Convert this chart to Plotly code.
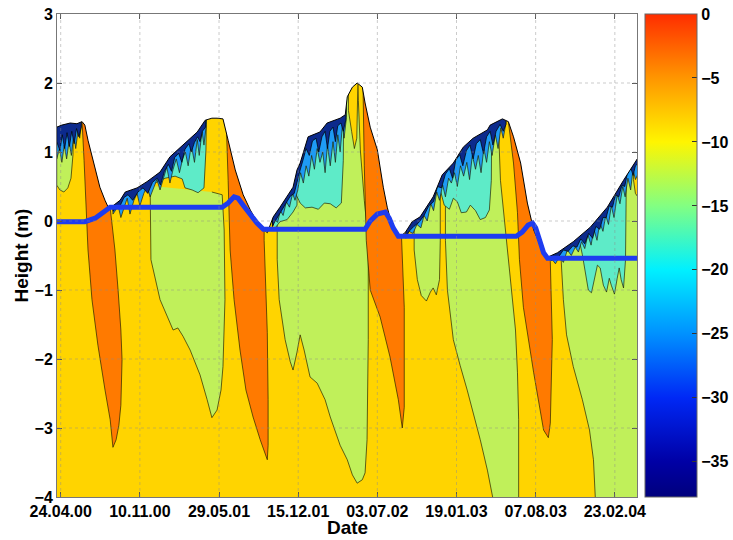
import pandas as pd
import plotly.graph_objects as go

# ---------------- data (days since 24.04.2000, height in m) ----------------
BASE = pd.Timestamp("2000-04-24")
X_RANGE_DAYS = [-9.35, 1456]
Y_RANGE = [-4, 3]
TICK_DAYS = [0, 200, 400, 600, 800, 1000, 1200, 1400]
TICK_LABELS = ["24.04.00", "10.11.00", "29.05.01", "15.12.01",
               "03.07.02", "19.01.03", "07.08.03", "23.02.04"]
Y_TICKS = [-4, -3, -2, -1, 0, 1, 2, 3]
CBAR_TICKS = [0, -5, -10, -15, -20, -25, -30, -35]
CBAR_RANGE = [-37.75, 0]

# top (snow/ice surface)
SURFACE = [(-10, 1.36), (3, 1.39), (24, 1.42), (41, 1.41), (54, 1.44), (61, 1.39), (69, 1.17),
           (82, 0.88), (99, 0.49), (112, 0.30), (120, 0.20), (132, 0.22), (150, 0.30), (163, 0.42),
           (193, 0.48), (218, 0.57), (251, 0.71), (276, 0.93), (302, 1.07), (327, 1.20), (345, 1.29),
           (365, 1.46), (382, 1.49), (395, 1.49), (410, 1.48), (423, 1.17), (441, 0.74), (461, 0.38),
           (479, 0.16), (496, -0.01), (509, -0.10), (522, -0.17), (537, 0.06), (554, 0.20), (587, 0.49),
           (597, 0.74), (605, 0.84), (625, 1.22), (655, 1.29), (673, 1.42), (706, 1.49), (719, 1.54),
           (724, 1.80), (737, 1.94), (749, 2.00), (762, 1.94), (769, 1.71), (782, 1.36), (800, 1.03),
           (815, 0.49), (825, 0.20), (840, -0.13), (858, -0.22), (870, -0.17), (888, -0.01), (908, 0.06),
           (941, 0.35), (964, 0.67), (992, 0.84), (1017, 1.07), (1042, 1.20), (1078, 1.32), (1085, 1.39),
           (1116, 1.48), (1131, 1.44), (1144, 1.22), (1162, 0.84), (1179, 0.26), (1195, -0.13),
           (1220, -0.46), (1232, -0.52), (1255, -0.46), (1295, -0.30), (1338, -0.09), (1381, 0.20),
           (1422, 0.59), (1460, 0.93)]

# thick blue line
BLUE_LINE = [(-10, -0.01), (61, -0.01), (87, 0.04), (107, 0.12), (125, 0.20), (408, 0.20), (423, 0.26),
             (438, 0.35), (448, 0.33), (461, 0.23), (479, 0.09), (496, -0.03), (512, -0.12), (522, -0.12),
             (769, -0.12), (782, 0.00), (800, 0.10), (820, 0.13), (830, 0.04), (840, -0.10), (853, -0.22),
             (863, -0.22), (1151, -0.22), (1166, -0.16), (1181, -0.06), (1192, -0.03), (1200, -0.10),
             (1210, -0.28), (1220, -0.46), (1230, -0.54), (1460, -0.54)]

# 0 .. -5 degC regions
ORANGE = [
    [(54, 2.33), (54, 1.44), (59, 0.88), (64, 0.30), (69, -0.42), (79, -1.14), (94, -1.80), (112, -2.45),
     (125, -2.88), (132, -3.28), (140, -3.17), (147, -2.96), (152, -2.67), (155, -2.01), (152, -1.58),
     (145, -1.00), (137, -0.42), (130, -0.06), (125, 0.19), (125, 2.33)],
    [(418, 2.33), (418, 1.46), (423, 0.59), (428, -0.42), (438, -1.14), (453, -1.87), (468, -2.45),
     (486, -2.84), (504, -3.17), (517, -3.39), (522, -3.46), (524, -3.25), (524, -2.59), (522, -1.62),
     (517, -0.85), (514, -0.28), (514, 2.33)],
    [(764, 2.33), (764, 1.86), (767, 0.80), (772, -0.28), (782, -1.00), (807, -1.39), (832, -1.97),
     (853, -2.59), (863, -3.00), (868, -2.70), (868, -1.25), (863, -0.52), (861, -0.22), (861, 2.33)],
    [(1131, 2.33), (1131, 1.44), (1144, 0.84), (1154, 0.12), (1159, -0.56), (1169, -1.25), (1195, -2.20),
     (1220, -3.03), (1232, -3.14), (1237, -2.93), (1242, -1.72), (1237, -0.59), (1235, 2.33)],
]

# -10 .. -15 degC regions
GREEN = [
    [(-10, 2.33), (-10, 0.52), (-2, 0.45), (8, 0.42), (18, 0.48), (26, 0.62), (31, 0.96), (34, 2.33)],
    [(226, 0.51), (228, -0.56), (251, -1.14), (284, -1.58), (296, -1.55), (309, -1.67), (327, -1.87),
     (352, -2.23), (370, -2.59), (382, -2.85), (395, -2.74), (405, -2.45), (410, -2.11), (415, -1.14),
     (413, -0.13), (408, 0.38), (382, 0.42)],
    [(547, 2.33), (547, -0.56), (552, -1.14), (567, -1.72), (580, -2.04), (587, -2.16), (597, -1.90),
     (605, -1.65), (615, -1.87), (630, -2.26), (648, -2.35), (668, -2.59), (681, -2.84), (706, -3.25),
     (724, -3.46), (737, -3.68), (749, -3.80), (762, -3.75), (769, -3.65), (774, -3.17), (777, -1.72),
     (777, -0.28), (767, 0.30), (757, 1.03), (752, 1.75), (749, 2.33)],
    [(893, 2.33), (893, -0.42), (901, -0.85), (911, -1.08), (924, -1.16), (934, -1.03), (941, -0.97),
     (949, -1.07), (957, -0.85), (959, -0.28), (959, 2.33)],
    [(972, 2.33), (972, -0.28), (977, -1.00), (992, -1.72), (1009, -2.09), (1027, -2.45), (1060, -3.17),
     (1078, -3.61), (1093, -4.05), (1157, -4.05), (1157, -2.88), (1154, -2.20), (1149, -1.58),
     (1136, -0.85), (1124, -0.13), (1111, 0.59), (1106, 1.36), (1106, 2.33)],
    [(1263, 2.33), (1263, -0.42), (1270, -1.14), (1278, -1.65), (1295, -2.11), (1318, -2.59),
     (1336, -3.03), (1346, -3.46), (1351, -4.05), (1463, -4.05), (1463, 2.33)],
]

# -5 .. -10 degC slivers lying inside the green regions
YELLOW = [
    [(727, 2.33), (727, 1.60), (735, 1.30), (742, 1.05), (748, 1.20), (752, 2.33)],
    [(1447, 2.33), (1447, 0.60), (1452, 0.40), (1458, 0.35), (1458, 2.33)],
]

# -15 .. -20 degC regions
AQUA = [
    [(-10, 2.33), (-10, 1.17), (-7, 1.03), (3, 1.10), (11, 1.25), (16, 1.39), (16, 2.33)],
    [(218, 2.33), (218, 0.49), (238, 0.55), (264, 0.62), (289, 0.65), (307, 0.61), (314, 0.48),
     (332, 0.45), (347, 0.41), (362, 0.48), (367, 1.03), (370, 2.33)],
    [(542, -0.10), (554, -0.01), (572, 0.02), (587, 0.13), (597, 0.23), (597, 0.74), (537, 0.74), (537, -0.05)],
    [(595, 2.33), (595, 0.38), (605, 0.26), (618, 0.19), (635, 0.20), (651, 0.17), (666, 0.26),
     (681, 0.25), (696, 0.19), (709, 0.26), (714, 0.88), (716, 2.33)],
    [(959, 2.33), (959, 0.45), (969, 0.23), (982, 0.17), (992, 0.33), (1002, 0.28), (1012, 0.12),
     (1025, 0.13), (1035, 0.23), (1048, 0.15), (1060, 0.02), (1073, 0.05), (1083, 0.16), (1088, 0.59),
     (1090, 2.33)],
    [(1308, 2.33), (1308, -0.22), (1318, -0.49), (1326, -0.78), (1333, -1.00), (1341, -1.04),
     (1348, -0.85), (1356, -0.64), (1363, -0.68), (1371, -0.93), (1379, -1.03), (1386, -0.83),
     (1391, -0.93), (1399, -1.06), (1406, -0.83), (1411, -0.68), (1416, -0.85), (1422, -0.97),
     (1427, -0.56), (1429, 0.30), (1432, 2.33)],
]

# -20 .. -30 degC streaks below the winter surfaces
COLD = [
    [(-10, 2.33), (-10, 0.90), (-3, 1.05), (3, 0.85), (9, 1.10), (15, 0.90), (21, 1.15), (27, 0.95),
     (33, 1.25), (38, 1.05), (44, 1.32), (48, 1.20), (52, 1.38), (52, 2.33)],
    [(132, 2.33), (132, 0.10), (138, 0.15), (145, 0.22), (152, 0.05), (160, 0.20), (168, 0.33),
     (175, 0.10), (185, 0.30), (193, 0.40), (200, 0.22), (210, 0.40), (218, 0.50), (226, 0.35),
     (235, 0.50), (243, 0.60), (251, 0.45), (260, 0.62), (268, 0.78), (276, 0.55), (284, 0.75),
     (292, 0.90), (300, 0.70), (308, 0.90), (315, 1.00), (322, 0.80), (330, 1.10), (338, 0.85),
     (345, 1.18), (350, 0.95), (357, 1.30), (362, 1.10), (368, 1.40), (368, 2.33)],
    [(535, 2.33), (535, -0.08), (541, 0.02), (548, -0.02), (555, 0.15), (562, 0.08), (570, 0.28),
     (578, 0.20), (586, 0.40), (592, 0.30), (599, 0.45), (606, 0.70), (613, 0.55), (620, 0.80),
     (627, 0.65), (634, 0.95), (641, 0.75), (648, 1.05), (655, 0.85), (662, 1.00), (668, 0.70),
     (674, 1.10), (681, 0.80), (688, 1.15), (694, 0.85), (700, 1.25), (706, 1.00), (712, 1.40),
     (716, 1.20), (722, 1.50), (722, 2.33)],
    [(872, 2.33), (872, -0.25), (880, -0.15), (890, -0.18), (900, -0.05), (910, -0.10), (918, 0.08),
     (926, 0.00), (935, 0.25), (942, 0.15), (950, 0.42), (957, 0.30), (965, 0.52), (972, 0.35),
     (980, 0.62), (987, 0.55), (995, 0.70), (1002, 0.50), (1010, 0.80), (1018, 0.65), (1026, 0.85),
     (1033, 0.60), (1040, 0.95), (1048, 0.75), (1055, 0.95), (1062, 0.70), (1069, 1.05), (1076, 0.85),
     (1083, 1.15), (1090, 0.95), (1098, 1.25), (1105, 1.05), (1112, 1.35), (1118, 1.20), (1125, 1.42),
     (1125, 2.33)],
    [(1242, 2.33), (1242, -0.56), (1250, -0.62), (1260, -0.52), (1270, -0.60), (1280, -0.42),
     (1290, -0.50), (1300, -0.38), (1308, -0.45), (1316, -0.30), (1324, -0.40), (1332, -0.20),
     (1340, -0.35), (1347, -0.12), (1355, -0.28), (1362, -0.02), (1370, -0.15), (1377, 0.08),
     (1384, -0.05), (1391, 0.22), (1398, 0.05), (1406, 0.38), (1413, 0.25), (1420, 0.50), (1426, 0.35),
     (1433, 0.62), (1440, 0.45), (1446, 0.75), (1452, 0.60), (1460, 0.70), (1460, 2.33)],
]

# coldest (< -30 degC) thin crust right under the winter surfaces
DARK = [
    [(-10, 2.33), (-10, 1.15), (-2, 1.02), (4, 1.25), (10, 1.05), (16, 1.28), (22, 1.08), (28, 1.30),
     (34, 1.12), (40, 1.34), (46, 1.22), (52, 1.36), (52, 2.33)],
    [(132, 2.33), (132, 0.14), (140, 0.18), (150, 0.22), (160, 0.34), (170, 0.38), (182, 0.30),
     (195, 0.42), (208, 0.48), (220, 0.40), (232, 0.56), (244, 0.62), (252, 0.52), (262, 0.72),
     (272, 0.82), (280, 0.72), (288, 0.92), (298, 0.98), (306, 0.85), (314, 1.04), (324, 1.12),
     (330, 1.00), (338, 1.14), (346, 1.22), (352, 1.15), (358, 1.30), (366, 1.36), (366, 2.33)],
    [(535, 2.33), (535, -0.08), (540, -0.02), (550, 0.08), (560, 0.18), (570, 0.28), (580, 0.36),
     (590, 0.40), (598, 0.60), (604, 0.72), (612, 0.88), (620, 1.05), (628, 0.95), (636, 1.16),
     (645, 1.20), (652, 1.00), (660, 1.22), (668, 1.30), (674, 1.05), (680, 1.30), (688, 1.36),
     (694, 1.15), (700, 1.38), (708, 1.42), (714, 1.30), (720, 1.46), (720, 2.33)],
    [(872, 2.33), (872, -0.22), (880, -0.15), (892, -0.08), (905, -0.02), (918, 0.08), (930, 0.22),
     (942, 0.28), (952, 0.50), (962, 0.48), (972, 0.68), (982, 0.76), (990, 0.62), (998, 0.88),
     (1008, 0.96), (1016, 0.80), (1025, 1.02), (1034, 1.10), (1042, 0.90), (1050, 1.12), (1060, 1.18),
     (1068, 0.98), (1076, 1.22), (1085, 1.30), (1092, 1.10), (1100, 1.30), (1110, 1.40), (1118, 1.30),
     (1125, 1.40), (1125, 2.33)],
    [(1240, 2.33), (1240, -0.58), (1246, -0.54), (1258, -0.52), (1270, -0.42), (1282, -0.44),
     (1294, -0.36), (1304, -0.38), (1314, -0.26), (1324, -0.33), (1334, -0.18), (1344, -0.25),
     (1352, -0.08), (1362, -0.12), (1370, 0.05), (1378, 0.05), (1386, 0.22), (1394, 0.20), (1402, 0.38),
     (1410, 0.35), (1418, 0.52), (1425, 0.50), (1432, 0.70), (1440, 0.78), (1446, 0.66), (1452, 0.80),
     (1460, 0.84), (1460, 2.33)],
]

# ---------------- style ----------------
C_ORANGE = "#FF7A00"
C_YELLOW = "#FFD400"
C_GREEN = "#C0F05A"
C_AQUA = "#5EEBC8"
C_COLD = "#1E9BF5"
C_DARK = "#0C2A8C"
EDGE = "rgba(30,30,0,0.85)"
FONT = "Liberation Sans, Arial, sans-serif"

JET = [[0.0, "rgb(0,0,125)"], [0.0728, "rgb(0,0,165)"], [0.2053, "rgb(0,40,245)"],
       [0.3377, "rgb(0,145,255)"], [0.4702, "rgb(0,240,255)"], [0.6026, "rgb(130,255,130)"],
       [0.7351, "rgb(255,245,0)"], [0.8675, "rgb(255,150,0)"], [1.0, "rgb(255,45,0)"]]


def dates(days):
    return [BASE + pd.Timedelta(days=float(d)) for d in days]


def poly(points, color, width=0.8, edge=EDGE):
    d, h = zip(*points)
    return go.Scatter(x=dates(d), y=list(h), mode="lines", fill="toself", fillcolor=color,
                      line=dict(color=edge, width=width), hoverinfo="skip", showlegend=False)


fig = go.Figure()
for p in GREEN:
    fig.add_trace(poly(p, C_GREEN))
for p in YELLOW:
    fig.add_trace(poly(p, C_YELLOW))
for p in ORANGE:
    fig.add_trace(poly(p, C_ORANGE))
for p in AQUA:
    fig.add_trace(poly(p, C_AQUA))
for p in COLD:
    fig.add_trace(poly(p, C_COLD))
for p in DARK:
    fig.add_trace(poly(p, C_DARK, edge="rgba(0,0,0,0.9)"))

# sky above the surface
sd, sh = zip(*SURFACE)
sky_d = list(sd) + [sd[-1], sd[0], sd[0]]
sky_h = list(sh) + [3.2, 3.2, sh[0]]
fig.add_trace(go.Scatter(x=dates(sky_d), y=sky_h, mode="lines", fill="toself", fillcolor="white",
                         line=dict(color="rgba(0,0,0,0)", width=0), hoverinfo="skip", showlegend=False))
fig.add_trace(go.Scatter(x=dates(sd), y=list(sh), mode="lines", line=dict(color="black", width=1),
                         hoverinfo="skip", showlegend=False))

bd, bh = zip(*BLUE_LINE)
fig.add_trace(go.Scatter(x=dates(bd), y=list(bh), mode="lines", line=dict(color="#1E3CF0", width=5),
                         hoverinfo="skip", showlegend=False))

# colour bar
fig.add_trace(go.Scatter(
    x=[BASE], y=[-10], mode="markers", hoverinfo="skip", showlegend=False,
    marker=dict(size=1, opacity=0, color=[-20], colorscale=JET, cmin=CBAR_RANGE[0], cmax=CBAR_RANGE[1],
                showscale=True,
                colorbar=dict(x=1.0138, xanchor="left", y=0.5, yanchor="middle", len=1, lenmode="fraction",
                              thickness=52, thicknessmode="pixels", xpad=0, ypad=0,
                              tickvals=CBAR_TICKS, ticks="inside", ticklen=5, tickcolor="#333",
                              tickfont=dict(family=FONT, size=16, color="black", weight="bold"),
                              outlinewidth=1, outlinecolor="#666"))))

# grid lines drawn over the field (dotted)
grid = dict(color="rgba(140,140,140,0.45)", width=1, dash="dot")
x0, x1 = dates(X_RANGE_DAYS)
for d in dates(TICK_DAYS):
    fig.add_shape(type="line", x0=d, x1=d, y0=Y_RANGE[0], y1=Y_RANGE[1], xref="x", yref="y",
                  line=grid, layer="above")
for yv in Y_TICKS[1:-1]:
    fig.add_shape(type="line", x0=x0, x1=x1, y0=yv, y1=yv, xref="x", yref="y", line=grid, layer="above")

tickfont = dict(family=FONT, size=16, color="black", weight="bold")
fig.update_xaxes(range=[x0, x1], tickvals=dates(TICK_DAYS), ticktext=TICK_LABELS, tickfont=tickfont,
                 ticks="inside", ticklen=5, tickcolor="#555", showline=True, linecolor="#777",
                 linewidth=1, mirror="ticks", showgrid=False, zeroline=False, layer="above traces")
fig.update_yaxes(range=Y_RANGE, tickvals=Y_TICKS, tickfont=tickfont, ticks="inside", ticklen=5,
                 tickcolor="#555", showline=True, linecolor="#777", linewidth=1, mirror="ticks",
                 showgrid=False, zeroline=False, layer="above traces")

fig.add_annotation(text="Date", x=0.50, y=-0.064, xref="paper", yref="paper", showarrow=False,
                   xanchor="center", yanchor="middle",
                   font=dict(family=FONT, size=19, color="black", weight="bold"))
fig.add_annotation(text="Height (m)", x=-0.062, y=0.5, xref="paper", yref="paper", showarrow=False,
                   xanchor="center", yanchor="middle", textangle=-90,
                   font=dict(family=FONT, size=19, color="black", weight="bold"))

fig.update_layout(width=733, height=540, margin=dict(l=57, r=96, t=14, b=43, autoexpand=False),
                  plot_bgcolor=C_YELLOW, paper_bgcolor="white", showlegend=False)
fig.write_html("out.html")
